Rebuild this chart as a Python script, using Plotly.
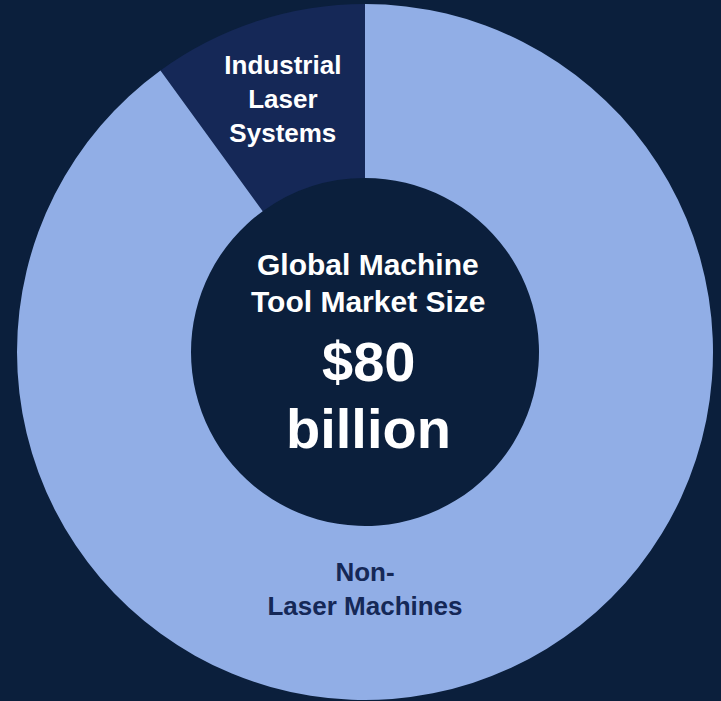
import plotly.graph_objects as go

# Data
labels = ["Industrial<br>Laser<br>Systems", "Non-<br>Laser Machines"]
values = [8, 72]  # billion USD (total $80 billion)
center_title = ["Global Machine", "Tool Market Size"]
center_value = ["$80", "billion"]

BG = "#0b1f3c"
SLICE_COLORS = ["#152857", "#91aee6"]
TEXT_COLORS = ["#ffffff", "#152857"]
FONT = "Liberation Sans, Arial, sans-serif"

small_share_deg = 360 * values[0] / sum(values)

fig = go.Figure(
    go.Pie(
        labels=labels,
        values=values,
        hole=0.5,
        sort=False,
        direction="clockwise",
        rotation=-small_share_deg,
        textinfo="label",
        textposition="inside",
        insidetextorientation="horizontal",
        marker=dict(colors=SLICE_COLORS, line=dict(width=0)),
        insidetextfont=dict(family=FONT, size=26, color=TEXT_COLORS, weight="bold"),
        showlegend=False,
        hoverinfo="label+value",
    )
)

W, H = 721, 701
ml, mr, mt, mb = 17, 8, 4, 1
ph = H - mt - mb
pw = W - ml - mr


def px(x):
    return (x - ml) / pw


def py(y):
    return (H - mb - y) / ph


annots = []
for txt, ypix in zip(center_title, [264, 301]):
    annots.append(dict(text=f"<b>{txt}</b>", x=px(368), y=py(ypix), xref="paper", yref="paper",
                       xanchor="center", yanchor="middle", showarrow=False,
                       font=dict(family=FONT, size=30, color="#ffffff")))
for txt, ypix in zip(center_value, [361, 428]):
    annots.append(dict(text=f"<b>{txt}</b>", x=px(368), y=py(ypix), xref="paper", yref="paper",
                       xanchor="center", yanchor="middle", showarrow=False,
                       font=dict(family=FONT, size=56, color="#ffffff")))

fig.update_layout(
    width=W,
    height=H,
    margin=dict(l=ml, r=mr, t=mt, b=mb),
    paper_bgcolor=BG,
    plot_bgcolor=BG,
    annotations=annots,
)

fig.write_html(
    "out.html",
    config={"displayModeBar": False},
    post_script=(
        "document.documentElement.style.margin='0';"
        "document.body.style.margin='0';"
        "document.body.style.overflow='hidden';"
        "document.body.style.background='" + BG + "';"
    ),
)
